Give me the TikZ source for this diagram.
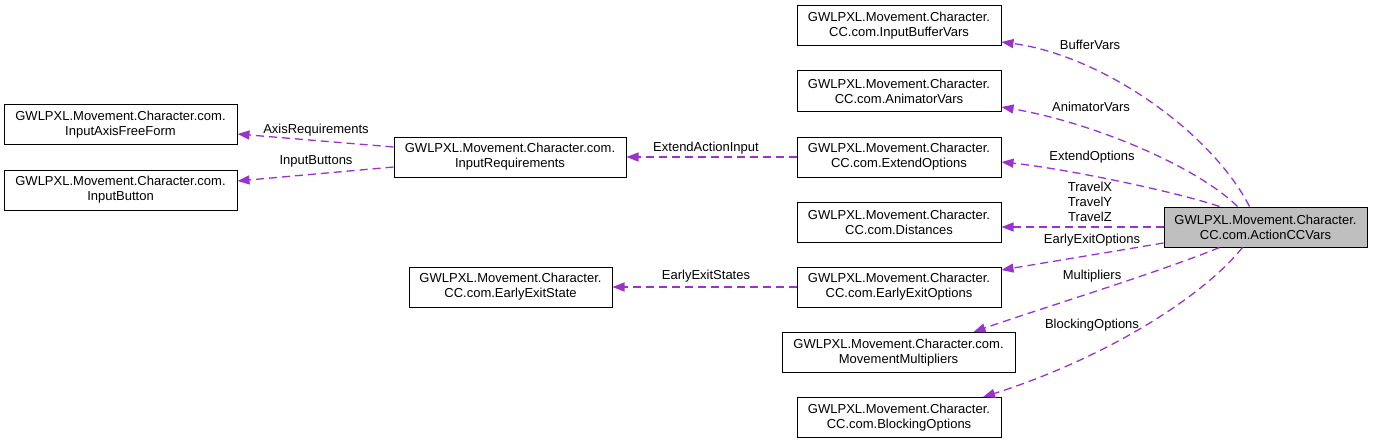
\documentclass[tikz,border=0pt]{standalone}
\usepackage{fontspec}
\setmainfont{Liberation Sans}
\usetikzlibrary{arrows.meta,calc}
\definecolor{edgecol}{RGB}{154,50,205}
\definecolor{boxgray}{RGB}{191,191,191}
\begin{document}
\begin{tikzpicture}[x=1pt,y=-1pt,
  cls/.style={draw=black, line width=1pt, fill=white, minimum height=40pt, inner sep=0pt, align=center, font=\fontsize{13}{15}\selectfont},
  clsmain/.style={cls, fill=boxgray},
  lbl/.style={inner sep=0pt, align=center, font=\fontsize{13}{15}\selectfont},
  rel/.style={draw=edgecol, line width=1.3pt, dash pattern=on 8pt off 5pt, -{Triangle[length=12pt,width=9pt,fill=edgecol]}}
]
\useasboundingbox (0,0) rectangle (1373,444);

% nodes
\node[cls, minimum width=204pt] (ibv) at (899,26) {GWLPXL.Movement.Character.\\CC.com.InputBufferVars};
\node[cls, minimum width=204pt] (anv) at (899,91) {GWLPXL.Movement.Character.\\CC.com.AnimatorVars};
\node[cls, minimum width=204pt] (ext) at (899,157) {GWLPXL.Movement.Character.\\CC.com.ExtendOptions};
\node[cls, minimum width=204pt] (dist) at (899,222) {GWLPXL.Movement.Character.\\CC.com.Distances};
\node[cls, minimum width=204pt] (eeo) at (899,287) {GWLPXL.Movement.Character.\\CC.com.EarlyExitOptions};
\node[cls, minimum width=233pt] (mm) at (898.5,352.5) {GWLPXL.Movement.Character.com.\\MovementMultipliers};
\node[cls, minimum width=204pt] (blk) at (899,417.5) {GWLPXL.Movement.Character.\\CC.com.BlockingOptions};
\node[clsmain, minimum width=203pt] (act) at (1265.5,227) {GWLPXL.Movement.Character.\\CC.com.ActionCCVars};
\node[cls, minimum width=232pt] (ir) at (510,157) {GWLPXL.Movement.Character.com.\\InputRequirements};
\node[cls, minimum width=233pt] (iaff) at (120.5,124.5) {GWLPXL.Movement.Character.com.\\InputAxisFreeForm};
\node[cls, minimum width=233pt] (ib) at (120.5,190) {GWLPXL.Movement.Character.com.\\InputButton};
\node[cls, minimum width=203pt] (ees) at (510.5,287) {GWLPXL.Movement.Character.\\CC.com.EarlyExitState};

% edges
\draw[rel] ([xshift=86pt]act.north west) .. controls (1210,130) and (1100,55) .. ([yshift=-16pt]ibv.east);
\draw[rel] ([xshift=74pt]act.north west) .. controls (1195,165) and (1090,122) .. ([yshift=-16pt]anv.east);
\draw[rel] ([xshift=56pt]act.north west) .. controls (1170,190) and (1060,168) .. ([yshift=-5pt]ext.east);
\draw[rel] (act.west) -- (act.west -| dist.east);
\draw[rel] ([yshift=-16pt]act.west) -- ([yshift=17pt]eeo.east);
\draw[rel] ([xshift=56pt]act.south west) .. controls (1160,272) and (1030,312) .. ([xshift=75pt]mm.north);
\draw[rel] ([xshift=79pt]act.south west) .. controls (1200,300) and (1100,360) .. ([xshift=84pt]blk.north);
\draw[rel] (ext.west) -- (ext.west -| ir.east);
\draw[rel] ([yshift=10pt]ir.west) -- ([yshift=-9.5pt]iaff.east);
\draw[rel] ([yshift=-10pt]ir.west) -- ([yshift=9pt]ib.east);
\draw[rel] (eeo.west) -- (eeo.west -| ees.east);

% labels
\node[lbl] (l1) at (1090,45) {BufferVars};
\node[lbl] (l2) at (1091,107) {AnimatorVars};
\node[lbl] (l3) at (1092,157) {ExtendOptions};
\node[lbl] (l4) at (1090,202) {TravelX\\TravelY\\TravelZ};
\node[lbl] (l5) at (1092,240) {EarlyExitOptions};
\node[lbl] (l6) at (1092,276) {Multipliers};
\node[lbl] (l7) at (1092,325) {BlockingOptions};
\node[lbl] (l8) at (706,148) {ExtendActionInput};
\node[lbl] (l9) at (316,130) {AxisRequirements};
\node[lbl] (l10) at (316,161) {InputButtons};
\node[lbl] (l11) at (706,276) {EarlyExitStates};
\end{tikzpicture}
\end{document}
